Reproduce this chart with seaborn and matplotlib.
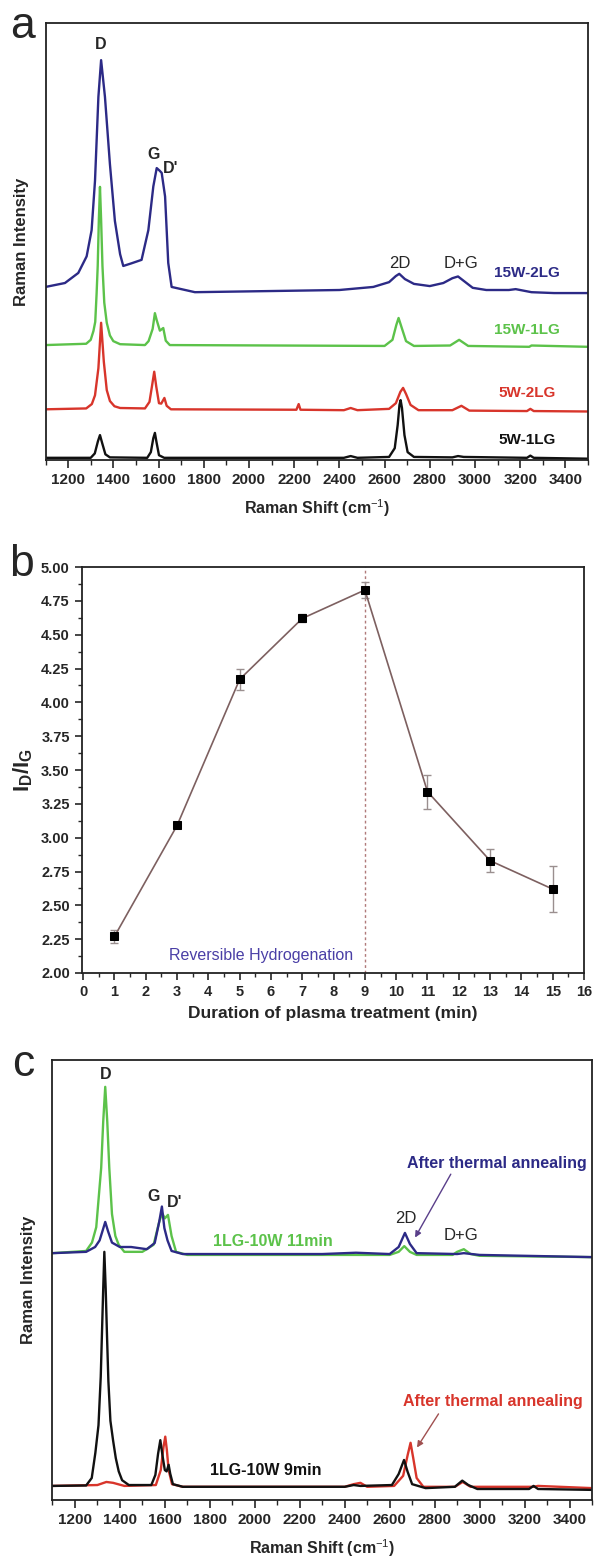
import matplotlib
matplotlib.use("Agg")
import matplotlib.pyplot as plt
import seaborn as sns

# ---------------- Panel a : Raman spectra ----------------
a_x_5w1lg = [1100, 1300, 1318, 1332, 1341, 1350, 1365, 1385, 1550, 1566, 1577, 1584, 1591, 1602, 1625,
             2420, 2450, 2480, 2620, 2645, 2658, 2666, 2671, 2677, 2688, 2702, 2730, 2900, 2925, 2950,
             3230, 3245, 3260, 3500]
a_y_5w1lg = [0.5, 0.5, 1.5, 4.3, 5.7, 4.0, 1.3, 0.6, 0.5, 1.8, 5.0, 6.2, 4.1, 1.1, 0.5,
             0.5, 0.9, 0.5, 0.7, 2.7, 8.0, 12.6, 13.7, 11.9, 5.7, 1.8, 0.7, 0.6, 0.9, 0.7,
             0.5, 1.0, 0.5, 0.3]

a_x_5w2lg = [1100, 1280, 1305, 1319, 1334, 1346, 1358, 1371, 1385, 1405, 1430, 1540, 1560, 1572, 1581,
             1590, 1602, 1612, 1626, 1636, 1655, 2210, 2220, 2228, 2420, 2450, 2480, 2620, 2650, 2670,
             2682, 2695, 2715, 2750, 2900, 2940, 2975, 3230, 3245, 3260, 3500]
a_y_5w2lg = [11.6, 11.8, 12.8, 14.8, 21.0, 31.4, 22.5, 16.0, 13.5, 12.3, 11.9, 11.8, 13.3, 17.2, 20.2,
             16.8, 13.0, 12.9, 14.2, 12.4, 11.6, 11.5, 12.8, 11.5, 11.4, 11.9, 11.4, 11.7, 13.0, 15.6,
             16.5, 15.1, 12.6, 11.4, 11.4, 12.4, 11.3, 11.2, 11.7, 11.2, 11.1]

a_x_15w1lg = [1100, 1280, 1300, 1312, 1320, 1326, 1331, 1336, 1341, 1346, 1352, 1360, 1371, 1385, 1400,
              1430, 1540, 1556, 1574, 1584, 1592, 1606, 1621, 1632, 1650, 2600, 2635, 2652, 2662, 2675,
              2695, 2730, 2890, 2930, 2970, 3240, 3250, 3500]
a_y_15w1lg = [26.3, 26.6, 27.5, 29.5, 31.6, 38.0, 44.4, 55.0, 62.5, 55.0, 44.4, 36.0, 31.4, 28.5, 27.2,
              26.5, 26.3, 27.2, 30.0, 33.6, 32.0, 29.6, 30.2, 27.3, 26.3, 26.1, 27.5, 30.9, 32.5, 30.4,
              27.2, 26.1, 26.2, 27.5, 26.1, 25.9, 26.2, 25.9]

a_x_15w2lg = [1100, 1186, 1245, 1282, 1304, 1319, 1334, 1346, 1363, 1385, 1407, 1430, 1444, 1480, 1525,
              1555, 1577, 1592, 1605, 1614, 1629, 1643, 1658, 1761, 2400, 2550, 2620, 2650, 2665, 2690,
              2730, 2800, 2860, 2900, 2925, 2950, 2990, 3050, 3150, 3180, 3250, 3350, 3500]
a_y_15w2lg = [39.6, 40.5, 42.8, 46.6, 52.6, 63.9, 83.1, 91.5, 83.1, 67.7, 54.7, 47.1, 44.4, 45.0, 45.8,
              52.6, 62.6, 66.8, 66.2, 65.7, 60.3, 45.1, 39.6, 38.4, 38.9, 39.6, 40.7, 42.1, 42.6, 41.4,
              40.3, 39.8, 40.5, 41.6, 42.0, 41.0, 39.4, 38.9, 38.9, 39.1, 38.4, 38.2, 38.2]

a_names = ["5W-1LG", "5W-2LG", "15W-1LG", "15W-2LG"]

# ---------------- Panel b : ID/IG vs plasma duration ----------------
b_time = [1, 3, 5, 7, 9, 11, 13, 15]
b_ratio = [2.27, 3.09, 4.17, 4.62, 4.83, 3.34, 2.83, 2.62]
b_err = [0.05, 0.02, 0.08, 0.03, 0.06, 0.125, 0.087, 0.17]

# ---------------- Panel c : spectra before / after annealing ----------------
c_x_11min = [1100, 1250, 1276, 1295, 1308, 1317, 1326, 1335, 1344, 1353, 1365, 1380, 1395, 1420, 1500,
             1550, 1575, 1588, 1600, 1614, 1630, 1650, 1700, 2600, 2640, 2665, 2690, 2720, 2880, 2900,
             2930, 2960, 3000, 3500]
c_y_11min = [56.1, 56.6, 58.5, 62.0, 70.0, 75.5, 86.0, 93.9, 86.0, 75.5, 65.0, 60.0, 58.0, 56.4, 56.4,
             58.0, 63.2, 65.2, 64.0, 64.8, 60.0, 56.4, 55.7, 55.7, 56.4, 57.7, 56.4, 55.7, 55.7, 56.4,
             57.0, 55.9, 55.5, 55.2]

c_x_11min_ann = [1100, 1250, 1290, 1310, 1325, 1335, 1348, 1365, 1400, 1450, 1520, 1555, 1575, 1587, 1598,
                 1612, 1630, 1680, 2300, 2450, 2600, 2640, 2668, 2690, 2720, 2900, 2930, 3000, 3500]
c_y_11min_ann = [56.1, 56.4, 57.5, 59.0, 61.5, 63.2, 61.0, 58.5, 57.5, 57.5, 57.0, 58.4, 63.2, 66.7, 61.8,
                 59.0, 56.6, 55.9, 55.9, 56.2, 55.9, 57.5, 60.7, 58.2, 56.1, 55.9, 56.1, 55.7, 55.2]

c_x_9min = [1100, 1250, 1275, 1291, 1305, 1315, 1320, 1326, 1331, 1337, 1343, 1349, 1358, 1370, 1382,
            1395, 1410, 1440, 1540, 1558, 1570, 1580, 1590, 1600, 1608, 1617, 1624, 1636, 1680, 2400,
            2440, 2470, 2610, 2640, 2664, 2680, 2700, 2760, 2890, 2923, 2950, 2990, 3220, 3240, 3260,
            3500]
c_y_9min = [3.2, 3.3, 5.0, 10.7, 17.0, 28.0, 37.1, 48.0, 56.4, 48.0, 37.1, 27.0, 18.0, 13.5, 9.5,
            6.5, 4.5, 3.4, 3.4, 5.7, 10.5, 13.6, 10.0, 6.8, 6.5, 8.0, 6.0, 3.6, 3.0, 3.0,
            3.4, 3.2, 3.4, 5.9, 9.1, 6.4, 3.6, 2.7, 3.0, 4.4, 3.4, 2.5, 2.5, 3.2, 2.5,
            2.3]

c_x_9min_ann = [1100, 1300, 1340, 1370, 1420, 1560, 1582, 1594, 1602, 1609, 1617, 1632, 1680, 2400, 2440,
                2470, 2500, 2620, 2660, 2680, 2693, 2705, 2720, 2750, 2890, 2925, 2960, 3240, 3260, 3500]
c_y_9min_ann = [3.2, 3.4, 4.1, 3.9, 3.2, 3.4, 6.8, 12.0, 14.4, 11.4, 6.8, 3.6, 3.0, 3.0, 3.6,
                3.9, 3.0, 3.2, 5.5, 10.2, 13.0, 9.5, 5.0, 3.0, 3.0, 4.1, 3.0, 3.0, 3.2, 2.7]

# ---------------- style ----------------
sns.set_style("ticks")
plt.rcParams["font.family"] = ["Liberation Sans", "DejaVu Sans"]
plt.rcParams["mathtext.fontset"] = "custom"
plt.rcParams["mathtext.rm"] = "Liberation Sans"
plt.rcParams["mathtext.bf"] = "Liberation Sans:bold"
plt.rcParams["axes.linewidth"] = 1.3

BLUE = "#2c2a86"
GREEN = "#5cc24a"
RED = "#d8352b"
BLACK = "#111111"

W, H = 596, 1561
fig = plt.figure(figsize=(W / 100, H / 100), dpi=100)


def px_axes(l, t, r, b):
    return fig.add_axes([l / W, 1 - b / H, (r - l) / W, (b - t) / H])


def style_spectrum_axes(ax):
    ax.set_xlim(1100, 3500)
    ax.set_ylim(0, 100)
    ax.set_yticks([])
    ax.set_xticks(range(1200, 3401, 200))
    ax.set_xticks(range(1100, 3501, 100), minor=True)
    ax.tick_params(axis="x", which="major", direction="out", length=6, width=1.2,
                   labelsize=11, pad=3, top=False)
    ax.tick_params(axis="x", which="minor", direction="out", length=3.5, width=1.0, top=False)
    for lbl in ax.get_xticklabels():
        lbl.set_fontweight("bold")
    for s in ax.spines.values():
        s.set_visible(True)
        s.set_color("#222222")
    ax.set_xlabel("Raman Shift (cm$^{-1}$)", fontsize=11.5, fontweight="bold", labelpad=8)
    ax.set_ylabel("Raman Intensity", fontsize=12, fontweight="bold", labelpad=12)


# ---------------- Panel a ----------------
axA = px_axes(45.5, 23, 588, 460)
for xs, ys, col in [(a_x_5w1lg, a_y_5w1lg, BLACK), (a_x_5w2lg, a_y_5w2lg, RED),
                    (a_x_15w1lg, a_y_15w1lg, GREEN), (a_x_15w2lg, a_y_15w2lg, BLUE)]:
    sns.lineplot(x=xs, y=ys, ax=axA, color=col, lw=1.7, estimator=None, sort=False)
style_spectrum_axes(axA)

axA.text(1344, 95, "D", ha="center", va="center", fontsize=11.5, fontweight="bold")
axA.text(1579, 70, "G", ha="center", va="center", fontsize=11.5, fontweight="bold")
axA.text(1655, 66.6, "D'", ha="center", va="center", fontsize=11.5, fontweight="bold")
axA.text(2668, 45, "2D", ha="center", va="center", fontsize=12)
axA.text(2938, 45, "D+G", ha="center", va="center", fontsize=12)
for name, yy, col in [("15W-2LG", 42.8, BLUE), ("15W-1LG", 29.7, GREEN),
                      ("5W-2LG", 15.3, RED), ("5W-1LG", 4.6, BLACK)]:
    axA.text(3230, yy, name, ha="center", va="center", fontsize=11, fontweight="bold", color=col)

fig.text(23 / W, 1 - 27 / H, "a", ha="center", va="center", fontsize=32)

# ---------------- Panel b ----------------
axB = px_axes(81.6, 567, 584, 973)
axB.axvline(9, color="#b07a7a", ls=(0, (2, 2)), lw=1.0)
axB.errorbar(b_time, b_ratio, yerr=b_err, fmt="none", ecolor="#9a8f8f", elinewidth=1.0,
             capsize=3, capthick=1.0, zorder=2)
sns.lineplot(x=b_time, y=b_ratio, ax=axB, color="#7d6060", lw=1.2, marker="s", markersize=5.5,
             markerfacecolor="black", markeredgecolor="black", estimator=None, sort=False, zorder=3)
axB.set_xlim(-0.05, 16)
axB.set_ylim(2.0, 5.0)
axB.set_xticks(range(0, 17))
axB.set_xticks([i + 0.5 for i in range(16)], minor=True)
axB.set_yticks([2.0 + 0.25 * i for i in range(13)])
axB.set_yticklabels([f"{2.0 + 0.25 * i:.2f}" for i in range(13)])
axB.set_yticks([2.0 + 0.125 * i for i in range(25)], minor=True)
axB.tick_params(axis="both", which="major", direction="out", length=5, width=1.2, labelsize=10.5)
axB.tick_params(axis="both", which="minor", direction="out", length=3, width=1.0)
for lbl in axB.get_xticklabels() + axB.get_yticklabels():
    lbl.set_fontweight("bold")
for s in axB.spines.values():
    s.set_visible(True)
    s.set_color("#222222")
axB.set_xlabel("Duration of plasma treatment (min)", fontsize=12.5, fontweight="bold", labelpad=5)
axB.set_ylabel(r"I$_\mathbf{D}$/I$_\mathbf{G}$", fontsize=16, fontweight="bold", labelpad=4)
axB.text(5.69, 2.126, "Reversible Hydrogenation", ha="center", va="center", fontsize=11.5,
         color="#4a3fa6")
fig.text(21 / W, 1 - 565 / H, "b", ha="center", va="center", fontsize=32)

# ---------------- Panel c ----------------
axC = px_axes(52.4, 1060, 592, 1500)
for xs, ys, col in [(c_x_11min, c_y_11min, GREEN), (c_x_11min_ann, c_y_11min_ann, BLUE),
                    (c_x_9min_ann, c_y_9min_ann, RED), (c_x_9min, c_y_9min, BLACK)]:
    sns.lineplot(x=xs, y=ys, ax=axC, color=col, lw=1.7, estimator=None, sort=False)
style_spectrum_axes(axC)

axC.text(1336, 96.6, "D", ha="center", va="center", fontsize=11.5, fontweight="bold")
axC.text(1551, 69, "G", ha="center", va="center", fontsize=11.5, fontweight="bold")
axC.text(1645, 67.6, "D'", ha="center", va="center", fontsize=11.5, fontweight="bold")
axC.text(2673, 63.9, "2D", ha="center", va="center", fontsize=12)
axC.text(2917, 60.2, "D+G", ha="center", va="center", fontsize=12)
axC.text(2081, 58.7, "1LG-10W 11min", ha="center", va="center", fontsize=11.5, fontweight="bold",
         color=GREEN)
axC.text(3078, 76.5, "After thermal annealing", ha="center", va="center", fontsize=11.5,
         fontweight="bold", color=BLUE)
axC.annotate("", xy=(2707, 59.1), xytext=(2878, 74.6),
             arrowprops=dict(arrowstyle="-|>", color="#5a3f8a", lw=1.0, mutation_scale=9))
axC.text(3060, 22.3, "After thermal annealing", ha="center", va="center", fontsize=11.5,
         fontweight="bold", color=RED)
axC.annotate("", xy=(2715, 11.4), xytext=(2824, 20.1),
             arrowprops=dict(arrowstyle="-|>", color="#a05050", lw=1.0, mutation_scale=9))
axC.text(2049, 6.8, "1LG-10W 9min", ha="center", va="center", fontsize=11.5, fontweight="bold",
         color=BLACK)
fig.text(23 / W, 1 - 1065 / H, "c", ha="center", va="center", fontsize=32)

fig.savefig("out.png", dpi=100)
